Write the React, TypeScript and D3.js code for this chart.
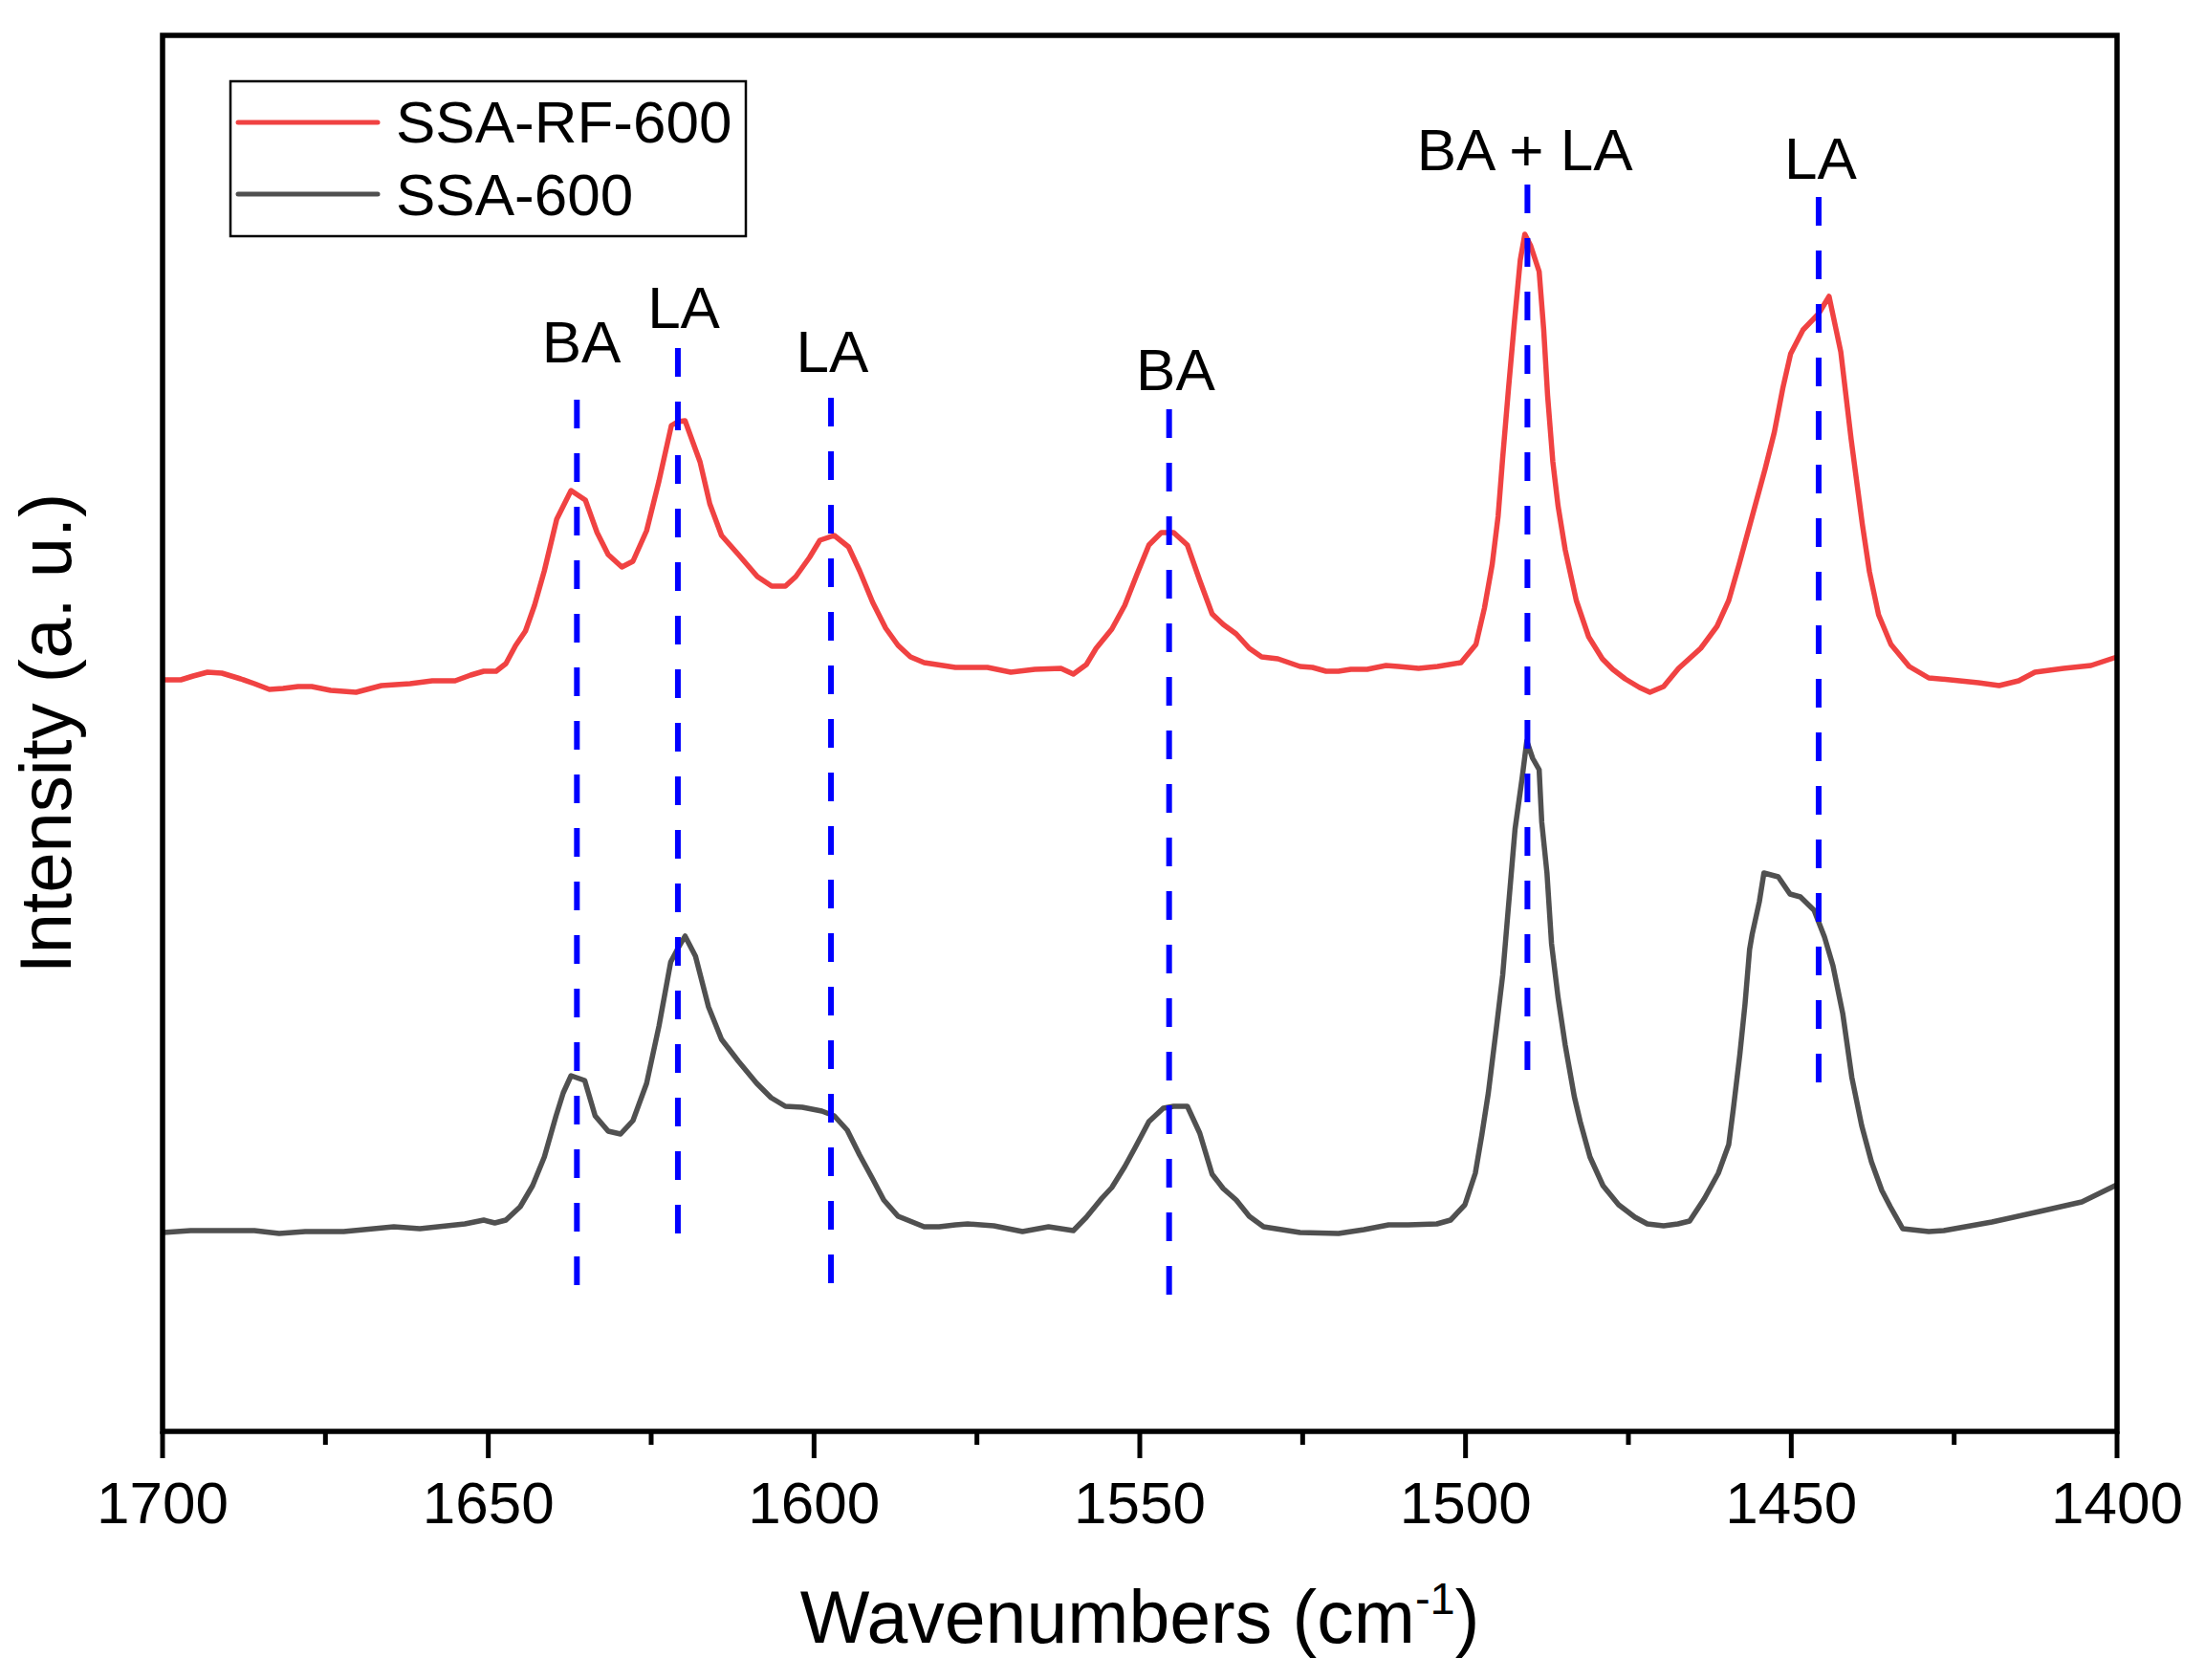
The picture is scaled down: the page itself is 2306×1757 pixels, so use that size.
import React from "react";
import * as d3 from "d3";

// [wavenumber (cm-1), intensity (a.u.)]
const rf600: [number, number][] = [
  [1699.9, 78.6], [1697.2, 78.6], [1695.3, 79.0], [1693.1, 79.4], [1690.9, 79.3],
  [1688.0, 78.7], [1685.9, 78.2], [1683.6, 77.6], [1681.5, 77.7], [1679.2, 77.9],
  [1677.1, 77.9], [1674.2, 77.5], [1670.3, 77.3], [1666.4, 78.0], [1662.0, 78.2],
  [1658.6, 78.5], [1655.1, 78.5], [1652.7, 79.1], [1650.7, 79.5], [1648.8, 79.5],
  [1647.3, 80.3], [1645.8, 82.2], [1644.3, 83.7], [1642.9, 86.4], [1641.4, 90.0],
  [1639.5, 95.4], [1637.3, 98.4], [1635.1, 97.4], [1633.3, 94.0], [1631.6, 91.7],
  [1629.5, 90.4], [1627.8, 91.0], [1625.7, 94.2], [1623.8, 99.4], [1621.9, 105.2],
  [1620.9, 105.6], [1619.8, 105.7], [1618.2, 102.7], [1617.5, 101.4], [1616.0, 97.0],
  [1614.2, 93.7], [1611.6, 91.7], [1608.7, 89.4], [1606.5, 88.4], [1604.4, 88.4],
  [1602.8, 89.4], [1600.7, 91.4], [1599.1, 93.2], [1596.9, 93.7], [1594.7, 92.5],
  [1593.0, 90.0], [1591.0, 86.7], [1589.0, 84.0], [1587.1, 82.2], [1585.2, 81.0],
  [1583.1, 80.4], [1578.3, 79.9], [1573.4, 79.9], [1569.8, 79.4], [1566.1, 79.7],
  [1562.1, 79.8], [1560.2, 79.2], [1558.2, 80.2], [1556.7, 81.9], [1554.3, 83.9],
  [1552.3, 86.4], [1550.4, 89.7], [1548.6, 92.7], [1546.7, 94.0], [1544.8, 94.0],
  [1542.7, 92.7], [1540.8, 89.0], [1538.9, 85.5], [1537.2, 84.4], [1535.2, 83.4],
  [1533.2, 81.9], [1531.3, 81.0], [1528.8, 80.8], [1525.4, 80.0], [1523.5, 79.9],
  [1521.4, 79.5], [1519.5, 79.5], [1517.6, 79.7], [1515.1, 79.7], [1512.2, 80.1],
  [1510.3, 80.0], [1507.2, 79.8], [1504.3, 80.0], [1500.7, 80.4], [1498.4, 82.3],
  [1497.1, 86.1], [1495.9, 90.7], [1495.0, 95.7], [1494.3, 101.8], [1493.4, 109.1],
  [1492.5, 116.0], [1491.6, 122.5], [1490.9, 125.2], [1490.0, 124.0], [1488.7, 121.3],
  [1488.0, 115.2], [1487.4, 108.3], [1486.6, 101.4], [1485.8, 96.8], [1484.7, 92.2],
  [1483.0, 86.9], [1481.1, 83.1], [1479.0, 80.8], [1477.4, 79.7], [1475.5, 78.7],
  [1473.3, 77.8], [1471.7, 77.3], [1469.6, 77.9], [1467.3, 79.8], [1463.9, 81.9],
  [1461.4, 84.2], [1459.6, 86.9], [1458.0, 90.7], [1456.0, 95.7], [1454.0, 100.7],
  [1452.6, 104.5], [1451.3, 109.1], [1450.1, 112.7], [1448.2, 115.2], [1445.8, 116.9],
  [1444.2, 118.7], [1442.4, 112.9], [1440.8, 103.7], [1439.1, 94.9], [1438.0, 89.9],
  [1436.6, 85.4], [1434.7, 82.3], [1431.9, 80.0], [1428.9, 78.8], [1425.6, 78.6],
  [1421.3, 78.3], [1418.1, 78.0], [1415.1, 78.5], [1412.6, 79.4], [1408.2, 79.8],
  [1404.0, 80.1], [1400.0, 81.0],
];

const ssa600: [number, number][] = [
  [1699.9, 20.8], [1695.7, 21.0], [1685.9, 21.0], [1682.1, 20.7], [1678.1, 20.9],
  [1672.2, 20.9], [1664.5, 21.4], [1660.5, 21.2], [1653.6, 21.7], [1650.7, 22.1],
  [1649.0, 21.8], [1647.3, 22.1], [1645.1, 23.5], [1643.2, 25.7], [1641.4, 28.7],
  [1639.6, 33.0], [1638.5, 35.4], [1637.3, 37.2], [1635.2, 36.7], [1633.6, 33.0],
  [1631.6, 31.4], [1629.7, 31.1], [1627.8, 32.5], [1625.7, 36.4], [1623.8, 42.4],
  [1622.0, 49.1], [1620.9, 50.5], [1619.8, 51.8], [1618.2, 49.7], [1616.2, 44.4],
  [1614.2, 41.0], [1611.6, 38.7], [1608.8, 36.4], [1606.6, 34.9], [1604.4, 34.0],
  [1601.8, 33.9], [1598.8, 33.5], [1596.9, 33.0], [1594.9, 31.5], [1593.0, 28.9],
  [1591.0, 26.4], [1589.3, 24.2], [1587.1, 22.5], [1583.1, 21.4], [1580.8, 21.4],
  [1578.3, 21.6], [1576.4, 21.7], [1572.4, 21.5], [1568.0, 20.9], [1564.0, 21.4],
  [1560.2, 21.0], [1558.2, 22.4], [1555.8, 24.4], [1554.3, 25.5], [1552.3, 27.7],
  [1550.7, 29.7], [1548.6, 32.4], [1546.4, 33.8], [1544.8, 34.0], [1542.7, 34.0],
  [1540.8, 31.2], [1538.9, 26.9], [1537.2, 25.4], [1535.2, 24.2], [1533.2, 22.5],
  [1531.0, 21.4], [1525.4, 20.8], [1519.5, 20.7], [1515.6, 21.1], [1511.8, 21.6],
  [1508.8, 21.6], [1504.4, 21.7], [1502.3, 22.1], [1500.1, 23.7], [1498.5, 27.0],
  [1497.5, 31.0], [1496.5, 35.4], [1495.3, 42.0], [1494.3, 47.7], [1493.4, 55.0],
  [1492.4, 63.0], [1491.3, 68.4], [1490.6, 72.2], [1489.7, 70.4], [1488.7, 69.2],
  [1488.3, 63.7], [1487.5, 58.4], [1486.8, 51.0], [1485.8, 45.4], [1484.7, 40.4],
  [1483.3, 35.0], [1482.4, 32.4], [1480.9, 28.7], [1478.9, 25.7], [1476.5, 23.7],
  [1474.0, 22.4], [1472.1, 21.7], [1469.6, 21.5], [1467.4, 21.7], [1465.6, 22.0],
  [1463.3, 24.4], [1461.2, 27.0], [1459.6, 30.0], [1458.9, 33.7], [1457.9, 39.4],
  [1457.1, 44.7], [1456.4, 50.4], [1456.0, 52.0], [1454.9, 55.4], [1454.2, 58.4],
  [1452.0, 58.0], [1450.2, 56.2], [1448.6, 55.9], [1446.5, 54.5], [1444.9, 51.7],
  [1443.6, 48.7], [1442.1, 43.7], [1440.7, 37.0], [1439.2, 32.0], [1437.7, 28.2],
  [1436.1, 25.2], [1434.8, 23.5], [1432.9, 21.2], [1428.9, 20.9], [1426.6, 21.0],
  [1419.2, 21.9], [1411.9, 23.0], [1405.4, 24.0], [1400.0, 25.8],
];

// dashed peak markers: wavenumber, intensity range, label + label position
const peakWn = [1636.4, 1620.9, 1597.4, 1545.5, 1490.5, 1445.8];
const peakTop = [107.9, 113.3, 108.1, 106.9, 130.4, 129.1];
const peakBottom = [14.9, 20.4, 15.2, 14.1, 37.4, 36.1];
const peakLabels = ["BA", "LA", "LA", "BA", "BA + LA", "LA"];
const labelWn = [1635.7, 1620.0, 1597.2, 1544.5, 1490.9, 1445.5];
const labelI = [111.8, 115.4, 110.8, 108.9, 131.9, 131.0];

const seriesNames = ["SSA-RF-600", "SSA-600"];
const seriesColors = ["#F04242", "#505050"];

const xTicks = d3.range(1700, 1399, -50);
const xMinorTicks = d3.range(1675, 1400, -50);

const W = 2306;
const H = 1757;
const font = "'Liberation Sans', Arial, sans-serif";

export default function App() {
  const x = d3.scaleLinear().domain([1700, 1400]).range([170, 2214]);
  const y = d3.scaleLinear().domain([0, 146]).range([1497, 37]);

  const line = d3
    .line<[number, number]>()
    .x((d) => x(d[0]))
    .y((d) => y(d[1]));

  const x0 = x(1700);
  const x1 = x(1400);
  const yTop = y(146);
  const yBot = y(0);

  return (
    <svg
      width={W}
      height={H}
      style={{ position: "absolute", left: 0, top: 0, background: "white" }}
      fontFamily={font}
    >
      <rect x={0} y={0} width={W} height={H} fill="white" />

      {/* curves */}
      <path d={line(ssa600) ?? ""} fill="none" stroke={seriesColors[1]} strokeWidth={5.5} strokeLinejoin="round" />
      <path d={line(rf600) ?? ""} fill="none" stroke={seriesColors[0]} strokeWidth={5.5} strokeLinejoin="round" />

      {/* peak markers */}
      {peakWn.map((wn, i) => (
        <line
          key={"pk" + i}
          x1={x(wn)}
          x2={x(wn)}
          y1={y(peakTop[i])}
          y2={y(peakBottom[i])}
          stroke="#0000FF"
          strokeWidth={6}
          strokeDasharray="30 26"
        />
      ))}
      {peakLabels.map((t, i) => (
        <text
          key={"lb" + i}
          x={x(labelWn[i])}
          y={y(labelI[i])}
          fontSize={62}
          textAnchor="middle"
          fill="black"
        >
          {t}
        </text>
      ))}

      {/* frame */}
      <rect
        x={x0}
        y={yTop}
        width={x1 - x0}
        height={yBot - yTop}
        fill="none"
        stroke="black"
        strokeWidth={5.5}
      />

      {/* bottom ticks */}
      {xTicks.map((t) => (
        <g key={"t" + t}>
          <line x1={x(t)} x2={x(t)} y1={yBot} y2={yBot + 28} stroke="black" strokeWidth={5} />
          <text x={x(t)} y={1593} fontSize={62} textAnchor="middle" fill="black">
            {t}
          </text>
        </g>
      ))}
      {xMinorTicks.map((t) => (
        <line key={"m" + t} x1={x(t)} x2={x(t)} y1={yBot} y2={yBot + 14} stroke="black" strokeWidth={5} />
      ))}

      {/* axis titles */}
      <text x={(x0 + x1) / 2} y={1718} fontSize={77} textAnchor="middle" fill="black">
        Wavenumbers (cm
        <tspan fontSize={47} dy={-30}>-1</tspan>
        <tspan dy={30}>)</tspan>
      </text>
      <text
        transform={`translate(74,${(yTop + yBot) / 2}) rotate(-90)`}
        fontSize={76}
        textAnchor="middle"
        fill="black"
      >
        Intensity (a. u.)
      </text>

      {/* legend */}
      <rect x={241} y={85} width={539} height={162} fill="white" stroke="black" strokeWidth={2.5} />
      {seriesNames.map((n, i) => (
        <g key={n}>
          <line
            x1={249}
            x2={395}
            y1={128 + i * 75}
            y2={128 + i * 75}
            stroke={seriesColors[i]}
            strokeWidth={5}
            strokeLinecap="round"
          />
          <text x={414} y={149 + i * 76} fontSize={62} fill="black">
            {n}
          </text>
        </g>
      ))}
    </svg>
  );
}
